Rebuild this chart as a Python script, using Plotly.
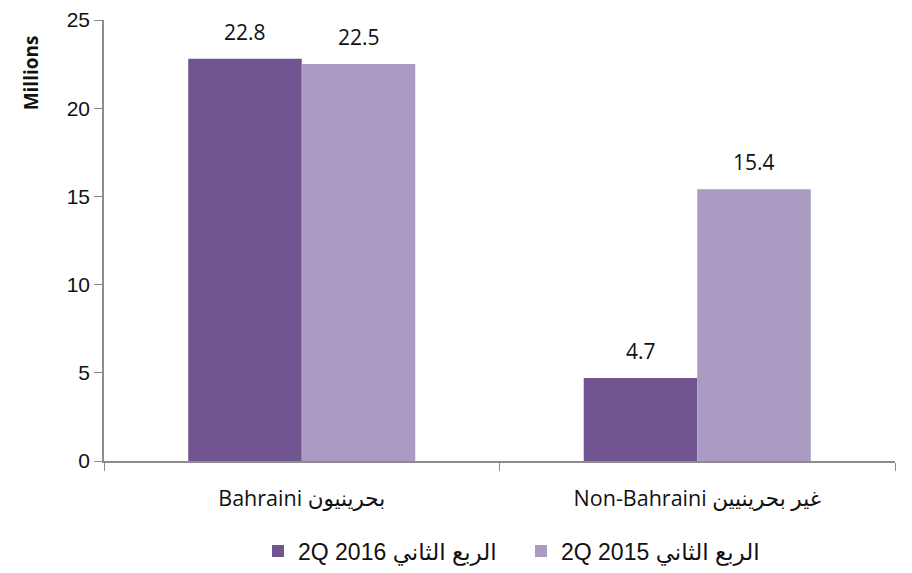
import plotly.graph_objects as go

categories = ["Bahraini بحرينيون", "Non-Bahraini غير بحرينيين"]
series_names = ["2Q 2016 الربع الثاني", "2Q 2015 الربع الثاني"]
values_2016 = [22.8, 4.7]
values_2015 = [22.5, 15.4]
y_ticks = [0, 5, 10, 15, 20, 25]

colors = ["#705590", "#A99BC1"]
font_main = "Open Sans, DejaVu Sans, sans-serif"
font_legend = "Liberation Sans, Arial, DejaVu Sans, sans-serif"

fig = go.Figure()
for name, vals, col in zip(series_names, [values_2016, values_2015], colors):
    fig.add_trace(go.Bar(
        x=categories, y=vals, name=name,
        marker=dict(color=col, line=dict(width=0)),
        cliponaxis=False,
    ))

# value labels above each bar (half a bar width left/right of the category centre)
half_bar_px = 56.75
for vals, shift in zip([values_2016, values_2015], [-half_bar_px, half_bar_px]):
    for cat, v in zip(categories, vals):
        fig.add_annotation(
            x=cat, y=v, xref="x", yref="y", text=f"{v:.1f}",
            showarrow=False, xanchor="center", yanchor="bottom",
            xshift=shift, yshift=11,
            font=dict(family=font_main, size=21, color="#111111"),
        )

fig.update_layout(
    width=904, height=565,
    margin=dict(l=96, r=17, t=12, b=112, autoexpand=False),
    paper_bgcolor="white", plot_bgcolor="white",
    barmode="group", bargap=0.426, bargroupgap=0,
    showlegend=True,
    legend=dict(orientation="h", xref="container", yref="container",
                x=250 / 904, xanchor="left", y=0.039, yanchor="middle",
                font=dict(family=font_legend, size=23, color="#111111"),
                itemwidth=30, tracegroupgap=0, entrywidth=218),
    font=dict(family=font_main, color="#111111"),
)
fig.update_xaxes(
    automargin=False,
    showline=True, linecolor="#8c8c8c", linewidth=1.5,
    ticks="outside", tickson="boundaries", ticklen=8, tickcolor="#8c8c8c",
    tickfont=dict(family=font_main, size=21.5, color="#111111"),
    ticklabelstandoff=17,
    showgrid=False,
)
fig.update_yaxes(
    automargin=False,
    range=[0, 25], tickvals=y_ticks,
    showline=True, linecolor="#8c8c8c", linewidth=1.5,
    ticks="outside", ticklen=8, tickcolor="#8c8c8c",
    tickfont=dict(family=font_legend, size=21, color="#111111"),
    ticklabeloverflow="allow",
    showgrid=False, zeroline=False,
)
fig.add_annotation(
    text="<b>Millions</b>", xref="paper", yref="paper",
    x=-0.093, y=0.88, xanchor="center", yanchor="middle",
    textangle=-90, showarrow=False,
    font=dict(family=font_main, size=19, color="#111111"),
)

fig.write_html("out.html")
